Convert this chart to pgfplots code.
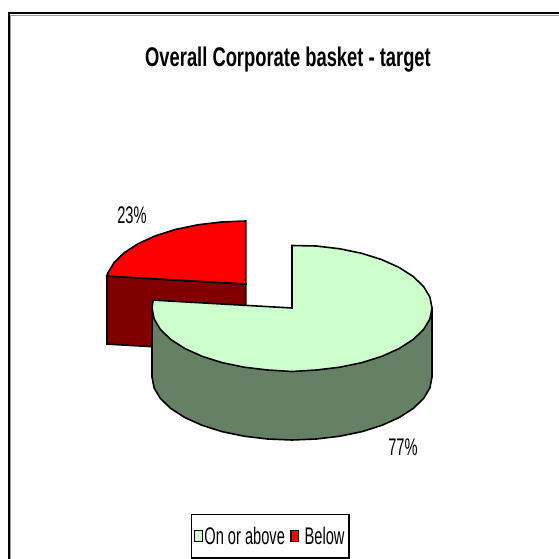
\documentclass[border=0pt]{standalone}
\usepackage{pgfplots}
\pgfplotsset{compat=1.18}
\usepackage{fontspec}
\setmainfont{Liberation Sans}
\definecolor{gtop}{HTML}{CCFFCC}
\definecolor{gside}{HTML}{668066}
\definecolor{rtop}{HTML}{FF0000}
\definecolor{rside}{HTML}{800000}
\newcommand{\lab}[1]{\scalebox{0.61}[1]{\fontsize{24}{26}\selectfont #1}}
\begin{document}
\begin{tikzpicture}
\path[use as bounding box] (0,0) rectangle (559pt,559pt);
\begin{axis}[
  at={(0,0)},anchor=south west,
  scale only axis,width=559pt,height=559pt,
  xmin=0,xmax=559,ymin=0,ymax=559,y dir=reverse,
  hide axis,clip=false,
  title={\scalebox{0.68}[1]{\fontsize{27}{30}\selectfont\bfseries Overall Corporate basket - target}},
  title style={at={(axis cs:288,66)},anchor=center,inner sep=0pt,yshift=0pt},
  legend cell align=left,
  legend columns=2,
  legend image code/.code={\draw[#1,line width=1.2pt] (0pt,-5pt) rectangle (7.5pt,6pt);},
  legend style={at={(axis cs:190.5,513.5)},anchor=north west,draw=black,line width=1.4pt,
    inner xsep=3pt,inner ysep=10.5pt,nodes={inner xsep=1.5pt,inner ysep=2pt},
    /tikz/every even column/.style={column sep=4pt}},
]
% frame
\addplot[forget plot,gray!80,line width=0.8pt] coordinates {(10.4,559) (10.4,15) (559,15)};
\addplot[forget plot,black,line width=2pt] coordinates {(9,559) (9,13.5) (559,13.5)};
% exploded slice: 23%
\addplot[forget plot,fill=rside,draw=black,line width=1.6pt] coordinates {(106.8,276.1) (245.7,284) (245.7,352) (106.8,344.1)} -- cycle;
\addplot[forget plot,fill=rtop,draw=black,line width=1.6pt] coordinates {(245.7,284) (245.7,221) (221.4,222) (197.8,224.8) (175.7,229.4) (155.7,235.7) (138.5,243.5) (124.5,252.5) (114.1,262.5) (107.8,273.1) (106.8,276.1)} -- cycle;
% main slice: 77%
\addplot[forget plot,fill=gside,draw=black,line width=1.6pt] coordinates {(432,308) (432,377) (429.9,387.9) (423.6,398.5) (413.2,408.5) (399.2,417.5) (382,425.3) (362,431.6) (339.9,436.2) (316.3,439) (292,440) (267.7,439) (244.1,436.2) (222,431.6) (202,425.3) (184.8,417.5) (170.8,408.5) (160.4,398.5) (154.1,387.9) (152,377) (152,308)} -- cycle;
\addplot[forget plot,fill=gtop,draw=black,line width=1.6pt] coordinates {(292,308) (292,245.5) (316.3,246) (339.9,248.8) (362,253.4) (382,259.7) (399.2,267.5) (413.2,276.5) (423.6,286.5) (429.9,297.1) (432,308) (429.9,318.9) (423.6,329.5) (413.2,339.5) (399.2,348.5) (382,356.3) (362,362.6) (339.9,367.2) (316.3,370) (292,371.5) (267.7,370) (244.1,367.2) (222,362.6) (202,356.3) (184.8,348.5) (170.8,339.5) (160.4,329.5) (154.1,318.9) (152,308) (153.1,300.1)} -- cycle;
\node at (axis cs:132,215) {\lab{23\%}};
\node at (axis cs:403,447) {\lab{77\%}};
\addlegendimage{fill=gtop,draw=black}
\addlegendentry{\lab{On or above}}
\addlegendimage{fill=rtop,draw=black}
\addlegendentry{\hspace{4pt}\lab{Below}}
\end{axis}
\end{tikzpicture}
\end{document}
